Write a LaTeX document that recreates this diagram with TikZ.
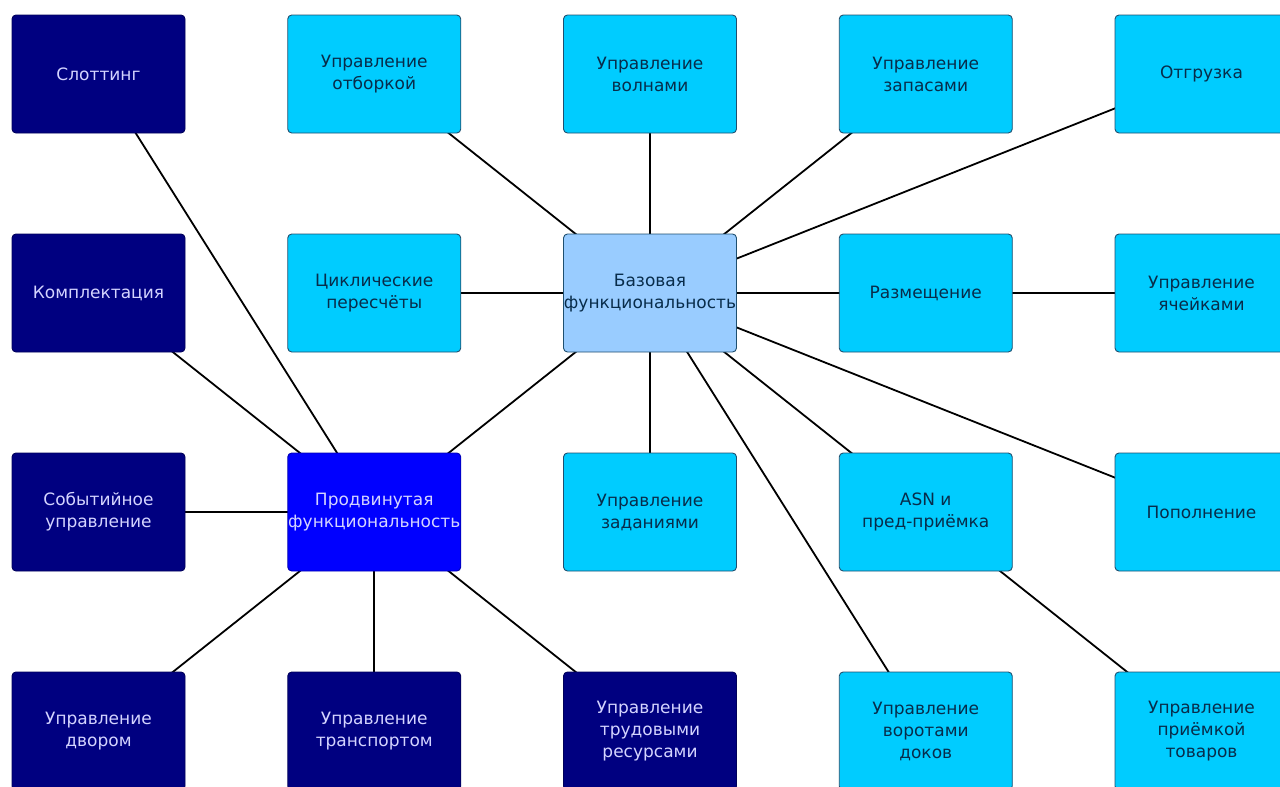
\documentclass[tikz,border=0pt]{standalone}
\usepackage{fontspec}
\setmainfont{DejaVu Sans}
\usetikzlibrary{positioning,backgrounds}
\definecolor{navybox}{HTML}{000080}
\definecolor{cyanbox}{HTML}{00CCFF}
\definecolor{basebox}{HTML}{99CCFF}
\definecolor{advbox}{HTML}{0000FF}
\definecolor{darktext}{HTML}{082C4A}
\definecolor{lighttext}{HTML}{D4D4FF}
\definecolor{boxline}{HTML}{1F4F6F}
\newcommand{\fullline}[1]{\makebox[0pt]{#1}}
\begin{document}
\begin{tikzpicture}[
    x=1pt, y=-1pt,
    node distance=219pt and 275.75pt, on grid,
    box/.style={rectangle, rounded corners=4pt, draw=boxline, line width=0.9pt, minimum width=173pt, minimum height=118pt, align=center, inner sep=2pt, font=\fontsize{17}{22}\selectfont},
    module/.style={box, fill=cyanbox, text=darktext},
    extra/.style={box, fill=navybox, draw=navybox!70!black, text=lighttext},
    link/.style={black, line width=1.8pt}
]
\useasboundingbox (0,0) rectangle (1280,787);
\clip (0,0) rectangle (1280,787);
% Top row
\node (slotting) [extra] at (98.5,74) {Слоттинг};
\node (picking) [module, right=of slotting] {Управление\\отборкой};
\node (waves) [module, right=of picking] {Управление\\волнами};
\node (stock) [module, right=of waves] {Управление\\запасами};
\node (shipping) [module, right=of stock] {Отгрузка};
% Second row
\node (kitting) [extra, below=of slotting] {Комплектация};
\node (counting) [module, right=of kitting] {Циклические\\пересчёты};
\node (base) [box, fill=basebox, text=darktext, right=of counting] {Базовая\\\fullline{функциональность}};
\node (putaway) [module, right=of base] {Размещение};
\node (cells) [module, right=of putaway] {Управление\\ячейками};
% Third row
\node (events) [extra, below=of kitting] {Событийное\\управление};
\node (advanced) [box, fill=advbox, draw=advbox!70!black, text=lighttext, right=of events] {Продвинутая\\\fullline{функциональность}};
\node (tasks) [module, right=of advanced] {Управление\\заданиями};
\node (asn) [module, right=of tasks] {ASN и\\пред-приёмка};
\node (replenish) [module, right=of asn] {Пополнение};
% Bottom row
\node (yard) [extra, below=of events] {Управление\\двором};
\node (transport) [extra, right=of yard] {Управление\\транспортом};
\node (labour) [extra, right=of transport] {Управление\\трудовыми\\ресурсами};
\node (docks) [module, right=of labour] {Управление\\воротами\\доков};
\node (receiving) [module, right=of docks] {Управление\\приёмкой\\товаров};

% Links
\begin{scope}[on background layer]
\foreach \target in {picking, waves, stock, shipping, counting, putaway, tasks, asn, replenish, docks, advanced}
    \draw [link] (base.center) -- (\target.center);
\foreach \target in {slotting, kitting, events, yard, transport, labour}
    \draw [link] (advanced.center) -- (\target.center);
\draw [link] (putaway.center) -- (cells.center);
\draw [link] (asn.center) -- (receiving.center);
\end{scope}
\end{tikzpicture}
\end{document}
